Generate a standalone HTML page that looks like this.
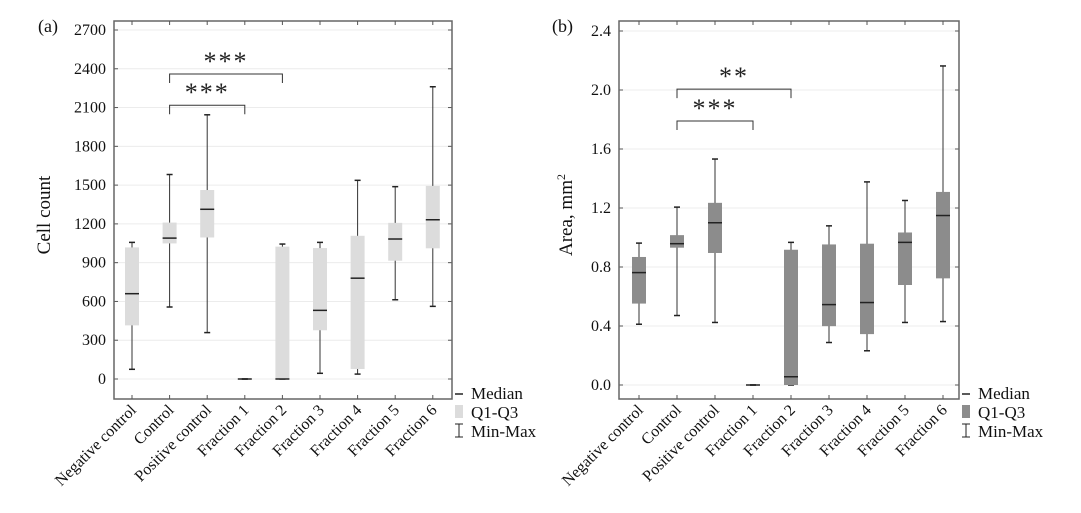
<!DOCTYPE html>
<html><head><meta charset="utf-8"><style>
body{margin:0;background:#fff;}
svg{display:block;}
text{font-family:"Liberation Serif","DejaVu Serif",serif;}
</style></head><body>
<svg id="s" width="1081" height="513"></svg>
<script>
const categories=["Negative control","Control","Positive control","Fraction 1","Fraction 2","Fraction 3","Fraction 4","Fraction 5","Fraction 6"];
const cellMin=[75,557,359,0,0,44,38,613,562];
const cellQ1=[415,1049,1095,0,0,377,77,915,1011];
const cellMed=[660,1090,1313,0,0,531,780,1083,1232];
const cellQ3=[1018,1210,1462,0,1024,1013,1108,1208,1494];
const cellMax=[1057,1582,2044,0,1044,1057,1537,1488,2261];
const cellTicks=[0,300,600,900,1200,1500,1800,2100,2400,2700];
const areaMin=[0.412,0.471,0.424,0,0,0.288,0.232,0.424,0.43];
const areaQ1=[0.552,0.931,0.895,0,0,0.399,0.345,0.678,0.723];
const areaMed=[0.762,0.958,1.1,0,0.056,0.545,0.559,0.967,1.149];
const areaQ3=[0.868,1.016,1.235,0,0.917,0.953,0.958,1.034,1.309];
const areaMax=[0.962,1.206,1.532,0,0.967,1.079,1.377,1.251,2.163];
const areaTicks=[0,0.4,0.8,1.2,1.6,2.0,2.4];
const cellBrackets=[[1,4,2360,"***"],[1,3,2118,"***"]];
const areaBrackets=[[1,4,2.006,"**"],[1,3,1.79,"***"]];

const NS="http://www.w3.org/2000/svg";
const svg=document.getElementById('s');
const SERIF='Liberation Serif, DejaVu Serif, serif';
function mk(t,a,p,txt){const e=document.createElementNS(NS,t);if(t==='text'&&!a['font-family'])e.setAttribute('font-family',SERIF);for(const k in a)e.setAttribute(k,a[k]);if(txt!==undefined)e.textContent=txt;(p||svg).appendChild(e);return e;}

function panel(o){
  const g=mk('g',{});
  
  
  const y=v=>o.y0+(v-o.vmin)/(o.vmax-o.vmin)*(o.y1-o.y0);
  const x=i=>o.x0+o.step*i;
  o.ticks.forEach((t,i)=>{
    const gl=mk('line',{x1:o.L,x2:o.R,y1:y(t),y2:y(t),stroke:'#ececec','stroke-width':1},g);
    
    
    mk('line',{x1:o.L,x2:o.L+4,y1:y(t),y2:y(t),stroke:'#555'},g);
    mk('line',{x1:o.R-4,x2:o.R,y1:y(t),y2:y(t),stroke:'#555'},g);
    const tl=mk('text',{x:o.L-8,y:y(t)+5,'text-anchor':'end','font-size':16,fill:'#111'},g,o.fmt(t));
    
    
  });
  const fr=mk('rect',{x:o.L,y:o.T,width:o.R-o.L,height:o.B-o.T,fill:'none',stroke:'#666','stroke-width':1.5},g);
  
  
  categories.forEach((c,i)=>{
    mk('line',{x1:x(i),x2:x(i),y1:o.B,y2:o.B-4,stroke:'#555'},g);
    mk('line',{x1:x(i),x2:x(i),y1:o.T,y2:o.T+4,stroke:'#555'},g);
    const bx=mk('g',{},g);
    
    
    const mn=o.mn[i],q1=o.q1[i],md=o.md[i],q3=o.q3[i],mx=o.mx[i];
    mk('line',{x1:x(i),x2:x(i),y1:y(mn),y2:y(mx),stroke:'#333'},bx);
    mk('line',{x1:x(i)-3,x2:x(i)+3,y1:y(mn),y2:y(mn),stroke:'#222','stroke-width':1.5},bx);
    mk('line',{x1:x(i)-3,x2:x(i)+3,y1:y(mx),y2:y(mx),stroke:'#222','stroke-width':1.5},bx);
    if(q3>q1) mk('rect',{x:x(i)-7,y:y(q3),width:14,height:y(q1)-y(q3),fill:o.fill},bx);
    mk('line',{x1:x(i)-7,x2:x(i)+7,y1:y(md),y2:y(md),stroke:'#222','stroke-width':1.5},bx);
    const lx=x(i)+5,ly=o.B+12;
    const t=mk('text',{x:lx,y:ly,'text-anchor':'end','font-size':16,fill:'#111',transform:`rotate(-45 ${lx} ${ly})`},g,c);
    
    
  });
  o.br.forEach(b=>{
    const bg=mk('g',{},g);
    
    
    const yy=y(b[2]);
    mk('polyline',{points:`${x(b[0])},${yy+9} ${x(b[0])},${yy} ${x(b[1])},${yy} ${x(b[1])},${yy+9}`,fill:'none',stroke:'#333'},bg);
    mk('text',{x:(x(b[0])+x(b[1]))/2,y:yy-4,'text-anchor':'middle','font-size':26,'font-family':'DejaVu Sans, sans-serif','letter-spacing':2,fill:'#222'},bg,b[3]);
  });
  const yt=mk('text',{x:o.ytx,y:215,'text-anchor':'middle','font-size':19,fill:'#111',transform:`rotate(-90 ${o.ytx} 215)`},g);
  
  
  yt.innerHTML=o.title;
  const pl=mk('text',{x:o.lab[0],y:o.lab[1],'font-size':18,fill:'#111'},g,o.id==='a'?'(a)':'(b)');
  
  
  const lg=mk('g',{},g);
  
  
  const lx=o.R+3;
  mk('line',{x1:lx,x2:lx+8,y1:394,y2:394,stroke:'#222','stroke-width':1.5},lg);
  mk('text',{x:lx+16,y:399,'font-size':17,fill:'#111'},lg,'Median');
  mk('rect',{x:lx,y:405,width:8,height:13,fill:o.fill},lg);
  mk('text',{x:lx+16,y:418,'font-size':17,fill:'#111'},lg,'Q1-Q3');
  mk('line',{x1:lx+4,x2:lx+4,y1:424,y2:437,stroke:'#222'},lg);
  mk('line',{x1:lx,x2:lx+8,y1:424,y2:424,stroke:'#222'},lg);
  mk('line',{x1:lx,x2:lx+8,y1:437,y2:437,stroke:'#222'},lg);
  mk('text',{x:lx+16,y:437,'font-size':17,fill:'#111'},lg,'Min-Max');
}
panel({id:'a',L:114,R:452,T:21,B:399,x0:132,step:37.6,y0:379,y1:30,vmin:0,vmax:2700,ticks:cellTicks,fmt:t=>String(t),
  mn:cellMin,q1:cellQ1,md:cellMed,q3:cellQ3,mx:cellMax,fill:'#dcdcdc',br:cellBrackets,ytx:50,title:'Cell count',lab:[38,32]});
panel({id:'b',L:619,R:959,T:21,B:399,x0:639,step:38,y0:385,y1:31,vmin:0,vmax:2.4,ticks:areaTicks,fmt:t=>t.toFixed(1),
  mn:areaMin,q1:areaQ1,md:areaMed,q3:areaQ3,mx:areaMax,fill:'#8c8c8c',br:areaBrackets,ytx:572,title:'Area, mm<tspan dy="-7" font-size="12">2</tspan>',lab:[552,32]});
</script>
</body></html>
